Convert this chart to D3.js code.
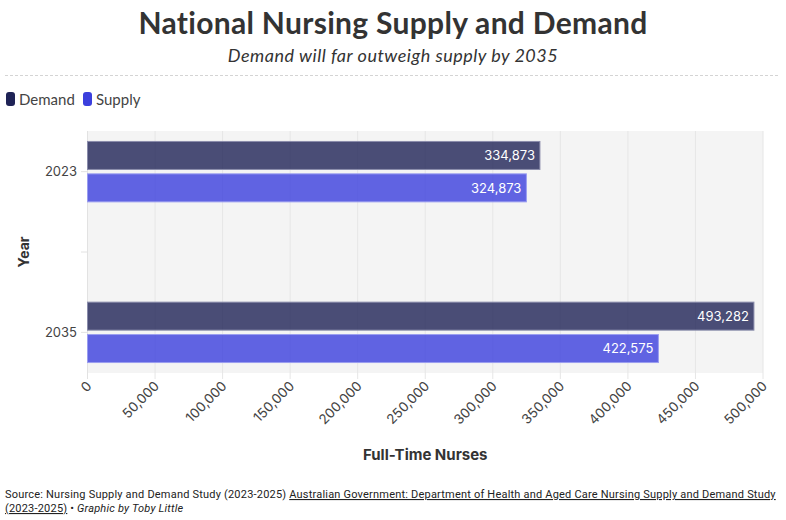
<!DOCTYPE html>
<html>
<head>
<meta charset="utf-8">
<script src="https://cdn.jsdelivr.net/npm/d3@7"></script>
<style>
  body { margin: 0; background: #fff; }
  svg { display: block; }
  .ax { font-family: Inter, Roboto, sans-serif; }
</style>
</head>
<body>
<div id="chart"></div>
<script>
// data
const years = ["2023", "2035"];
const series = ["Demand", "Supply"];
const demand = [334873, 493282];
const supply = [324873, 422575];
const swatch = ["#1f2356", "#3b3fdd"];

const W = 786, H = 520;
const svg = d3.select("#chart").append("svg")
  .attr("width", W)
  .attr("height", H);

const pLeft = 87.5, pRight = 763, pTop = 131, pBottom = 373;

// titles
svg.append("text")
  .attr("x", 393).attr("y", 34)
  .attr("text-anchor", "middle")
  .style("font-family", "Lato, sans-serif")
  .style("font-weight", "bold")
  .style("font-size", "30px")
  .style("letter-spacing", "0.3px")
  .attr("fill", "#333")
  .text("National Nursing Supply and Demand");

svg.append("text")
  .attr("x", 393).attr("y", 62)
  .attr("text-anchor", "middle")
  .style("font-family", "Lato, sans-serif")
  .style("font-style", "italic")
  .style("font-size", "18px")
  .style("letter-spacing", "0.5px")
  .attr("fill", "#333")
  .text("Demand will far outweigh supply by 2035");

svg.append("line")
  .attr("x1", 5).attr("x2", 780)
  .attr("y1", 75.5).attr("y2", 75.5)
  .attr("stroke", "#d4d4d4")
  .attr("stroke-dasharray", "3,2");

// legend
const legX = [6, 83];
series.forEach((s, i) => {
  svg.append("rect")
    .attr("x", legX[i]).attr("y", 92)
    .attr("width", 9).attr("height", 14)
    .attr("rx", 3)
    .attr("fill", swatch[i]);
  svg.append("text")
    .attr("x", legX[i] + 13).attr("y", 105)
    .style("font-family", "Lato, sans-serif")
    .style("font-size", "15px")
    .attr("fill", "#444")
    .text(s);
});

// scales
const x = d3.scaleLinear().domain([0, 500000]).range([pLeft, pRight]);
const y = d3.scalePoint().domain(years).range([pTop, pBottom]).padding(0.253);
const yInner = d3.scaleBand().domain(series).range([-30.2, 30.2]).paddingInner(0.136);

// panel
svg.append("rect")
  .attr("x", pLeft).attr("y", pTop)
  .attr("width", pRight - pLeft).attr("height", pBottom - pTop)
  .attr("fill", "#f4f4f4");

// grid
const ticks = x.ticks(10);
svg.append("g").selectAll("line")
  .data(ticks)
  .enter()
  .append("line")
  .attr("x1", d => x(d)).attr("x2", d => x(d))
  .attr("y1", pTop).attr("y2", pBottom + 6)
  .attr("stroke", "#e6e6e6")
  .attr("stroke-width", 1);

svg.append("line")
  .attr("x1", pLeft).attr("x2", pLeft)
  .attr("y1", pTop).attr("y2", pBottom + 6)
  .attr("stroke", "#e2e2e2");

// bars
const rows = [];
years.forEach((yr, i) => {
  rows.push({ year: yr, s: "Demand", v: demand[i], c: 0 });
  rows.push({ year: yr, s: "Supply", v: supply[i], c: 1 });
});

svg.append("g").selectAll("rect")
  .data(rows)
  .enter()
  .append("rect")
  .attr("x", x(0))
  .attr("y", d => y(d.year) + yInner(d.s))
  .attr("width", d => x(d.v) - x(0))
  .attr("height", yInner.bandwidth())
  .attr("fill", d => swatch[d.c])
  .attr("fill-opacity", 0.8)
  .attr("stroke", d => d.c === 0 ? "#8a8cab" : "#9a9df0")
  .attr("stroke-width", 1);

svg.append("g").selectAll("text")
  .data(rows)
  .enter()
  .append("text")
  .attr("class", "ax")
  .attr("x", d => x(d.v) - 5)
  .attr("y", d => y(d.year) + yInner(d.s) + yInner.bandwidth() / 2)
  .attr("dy", "0.36em")
  .attr("text-anchor", "end")
  .style("font-size", "13px")
  .attr("fill", "#fff")
  .text(d => d3.format(",")(d.v));

// y axis
svg.append("g").selectAll("text")
  .data(years)
  .enter()
  .append("text")
  .attr("class", "ax")
  .attr("x", 77)
  .attr("y", d => y(d))
  .attr("dy", "0.36em")
  .attr("text-anchor", "end")
  .style("font-size", "13px")
  .attr("fill", "#444")
  .text(d => d);

const yTickPos = years.map(d => y(d)).concat([(y(years[0]) + y(years[1])) / 2]);
svg.append("g").selectAll("line")
  .data(yTickPos)
  .enter()
  .append("line")
  .attr("x1", 81).attr("x2", pLeft)
  .attr("y1", d => d).attr("y2", d => d)
  .attr("stroke", "#e2e2e2");

svg.append("text")
  .attr("transform", "translate(29," + ((pTop + pBottom) / 2) + ") rotate(-90)")
  .attr("text-anchor", "middle")
  .style("font-family", "Inter, Roboto, sans-serif")
  .style("font-weight", "bold")
  .style("font-size", "14px")
  .attr("fill", "#333")
  .text("Year");

// x axis labels
svg.append("g").selectAll("text")
  .data(ticks)
  .enter()
  .append("text")
  .attr("class", "ax")
  .attr("transform", d => "translate(" + (x(d) + 5) + "," + (pBottom + 14) + ") rotate(-45)")
  .attr("text-anchor", "end")
  .style("font-size", "13.5px")
  .attr("fill", "#444")
  .text(d => d3.format(",")(d));

svg.append("text")
  .attr("x", (pLeft + pRight) / 2).attr("y", 460)
  .attr("text-anchor", "middle")
  .style("font-family", "Inter, Roboto, sans-serif")
  .style("font-weight", "bold")
  .style("font-size", "15px")
  .attr("fill", "#333")
  .text("Full-Time Nurses");

// source
const src = svg.append("text")
  .attr("x", 5).attr("y", 498)
  .style("font-family", "Roboto, sans-serif")
  .style("font-size", "11px")
  .style("letter-spacing", "0.2px")
  .attr("fill", "#222");
src.append("tspan").text("Source: Nursing Supply and Demand Study (2023-2025) ");
src.append("tspan")
  .style("text-decoration", "underline")
  .text("Australian Government: Department of Health and Aged Care Nursing Supply and Demand Study");

const src2 = svg.append("text")
  .attr("x", 5).attr("y", 512)
  .style("font-family", "Roboto, sans-serif")
  .style("font-size", "11px")
  .style("letter-spacing", "0.2px")
  .attr("fill", "#222");
src2.append("tspan")
  .style("text-decoration", "underline")
  .text("(2023-2025)");
src2.append("tspan").text(" \u2022 ");
src2.append("tspan")
  .style("font-style", "italic")
  .text("Graphic by Toby Little");
</script>
</body>
</html>
